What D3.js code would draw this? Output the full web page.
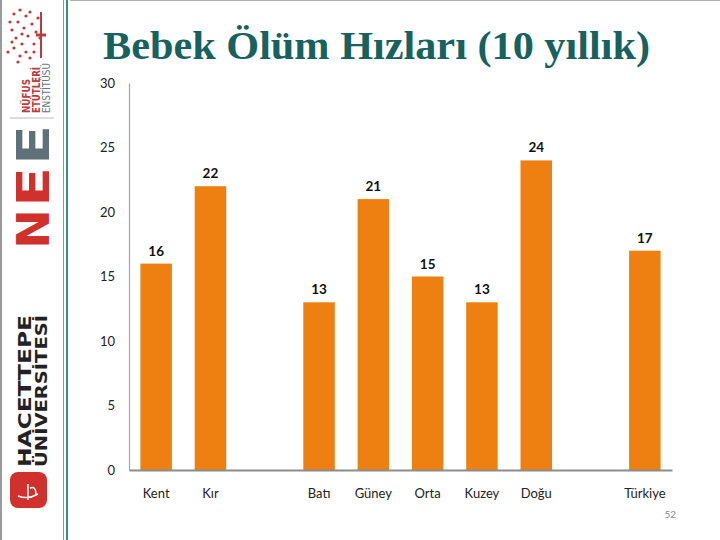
<!DOCTYPE html>
<html><head><meta charset="utf-8">
<script src="https://cdn.jsdelivr.net/npm/d3@7"></script>
<style>html,body{margin:0;padding:0;background:#fff;}</style>
</head><body>
<svg id="c" width="720" height="540"></svg>
<script>
const title = "Bebek Ölüm Hızları (10 yıllık)";
const categories = ["Kent", "Kır", "Batı", "Güney", "Orta", "Kuzey", "Doğu", "Türkiye"];
const values = [16, 22, 13, 21, 15, 13, 24, 17];
const groupBreaksAfter = ["Kır", "Doğu"];
const yTicks = [0, 5, 10, 15, 20, 25, 30];
const pageNumber = "52";

const svg = d3.select("#c");
const W = 720, H = 540;

// slide frame
svg.append("rect").attr("x",0).attr("y",0).attr("width",W).attr("height",H).attr("fill","#fff");
svg.append("line").attr("x1",1).attr("x2",1).attr("y1",0).attr("y2",H).attr("stroke","#9a9a9a").attr("stroke-width",2);
svg.append("line").attr("x1",70).attr("x2",W).attr("y1",0.5).attr("y2",0.5).attr("stroke","#b0b0b0").attr("stroke-width",1);
svg.append("line").attr("x1",63.5).attr("x2",63.5).attr("y1",0).attr("y2",H).attr("stroke","#8a9a9a").attr("stroke-width",1);
svg.append("line").attr("x1",67).attr("x2",67).attr("y1",0).attr("y2",H).attr("stroke","#3a8a8a").attr("stroke-width",2);

// sidebar logos (approximate)
const side = svg.append("g");
const treeDots = [[14,14],[20,10],[26,16],[18,22],[30,12],[24,28],[12,30],[32,24],[16,38],[28,36],[22,44],[36,32],[14,48],[26,52],[34,44],[20,56],[30,58],[38,18],[10,22],[40,38],[22,34],[34,52],[12,42],[8,52],[18,62]];
side.selectAll("circle.t").data(treeDots).join("circle").attr("class","t")
  .attr("cx",d=>d[0]).attr("cy",d=>d[1]).attr("r",1.6).attr("fill","#c0393b");
side.append("line").attr("x1",41).attr("x2",41).attr("y1",12).attr("y2",58).attr("stroke","#c0393b").attr("stroke-width",2);
side.append("line").attr("x1",36).attr("x2",46).attr("y1",35).attr("y2",35).attr("stroke","#c0393b").attr("stroke-width",3);

function vtext(x, y, txt, size, fill, weight, len){
  const t = side.append("text").attr("transform",`translate(${x},${y}) rotate(-90)`)
    .attr("font-family","DejaVu Sans").attr("font-size", size).attr("font-weight", weight||"bold")
    .attr("fill", fill).text(txt);
  if (len) t.attr("textLength", len).attr("lengthAdjust","spacingAndGlyphs");
}
vtext(30, 113, "NÜFUS", 10, "#c0393b", "bold", 34);
vtext(40, 113, "ETÜTLERİ", 10, "#c0393b", "bold", 46);
vtext(50, 113, "ENSTİTÜSÜ", 10, "#6a7a80", "normal", 50);
side.append("line").attr("x1",10).attr("x2",54).attr("y1",118).attr("y2",118).attr("stroke","#bbb");
vtext(49, 249, "N", 44, "#d0312d", "bold", 40);
vtext(49, 207, "E", 44, "#d0312d", "bold", 40);
vtext(49, 165, "E", 44, "#5e7078", "bold", 40);
vtext(31, 467, "HACETTEPE", 17, "#222", "bold", 152);
vtext(47, 467, "ÜNİVERSİTESİ", 15, "#222", "bold", 152);
side.append("rect").attr("x",10).attr("y",472).attr("width",37).attr("height",36).attr("rx",8).attr("fill","#d0312d");
side.append("path").attr("d","M18 496 Q28 500 38 494 M28 484 L28 500 M30 488 Q36 486 36 494").attr("stroke","#fff").attr("fill","none").attr("stroke-width",1.5);

// title
svg.append("text").attr("x",103).attr("y",59)
  .attr("font-family","Liberation Serif").attr("font-weight","bold").attr("font-size",40)
  .attr("fill","#17615f").attr("textLength",547).attr("lengthAdjust","spacingAndGlyphs")
  .text(title);

// scales
const domain = [];
categories.forEach(c => { domain.push(c); if (groupBreaksAfter.includes(c)) domain.push("__gap_" + c); });
const x = d3.scaleBand().domain(domain).range([129, 672]).paddingInner(0.42).paddingOuter(0.21);
const y = d3.scaleLinear().domain([0, 30]).range([470, 83]);

const g = svg.append("g");
g.selectAll("rect.bar").data(categories).join("rect").attr("class","bar")
  .attr("x", d => x(d)).attr("width", x.bandwidth())
  .attr("y", (d,i) => y(values[i])).attr("height", (d,i) => y(0) - y(values[i]))
  .attr("fill", "#ee8012");
g.selectAll("text.val").data(categories).join("text").attr("class","val")
  .attr("x", d => x(d) + x.bandwidth()/2).attr("y", (d,i) => y(values[i]) - 8)
  .attr("text-anchor","middle").attr("font-family","Lato").attr("font-weight","bold")
  .attr("font-size",13.5).attr("fill","#111").text((d,i) => values[i]);

// y axis
const yAxis = d3.axisLeft(y).tickValues(yTicks).tickSize(0).tickPadding(14);
const ya = svg.append("g").attr("transform","translate(129,0)").call(yAxis);
ya.select(".domain").attr("stroke","#a6a6a6").attr("stroke-width",1.2);
ya.selectAll("text").attr("font-family","Lato").attr("font-size",13).attr("fill","#222");

// x axis
const xAxis = d3.axisBottom(x).tickValues(categories).tickSize(0).tickPadding(19).tickSizeOuter(0);
const xa = svg.append("g").attr("transform","translate(0,470)").call(xAxis);
xa.select(".domain").attr("stroke","#8c8c8c").attr("stroke-width",2);
xa.selectAll("text").attr("font-family","Lato").attr("font-size",13).attr("fill","#222");

svg.append("text").attr("x",676).attr("y",518).attr("text-anchor","end")
  .attr("font-family","Lato").attr("font-size",10).attr("fill","#8a8a8a").text(pageNumber);
</script>
</body></html>
